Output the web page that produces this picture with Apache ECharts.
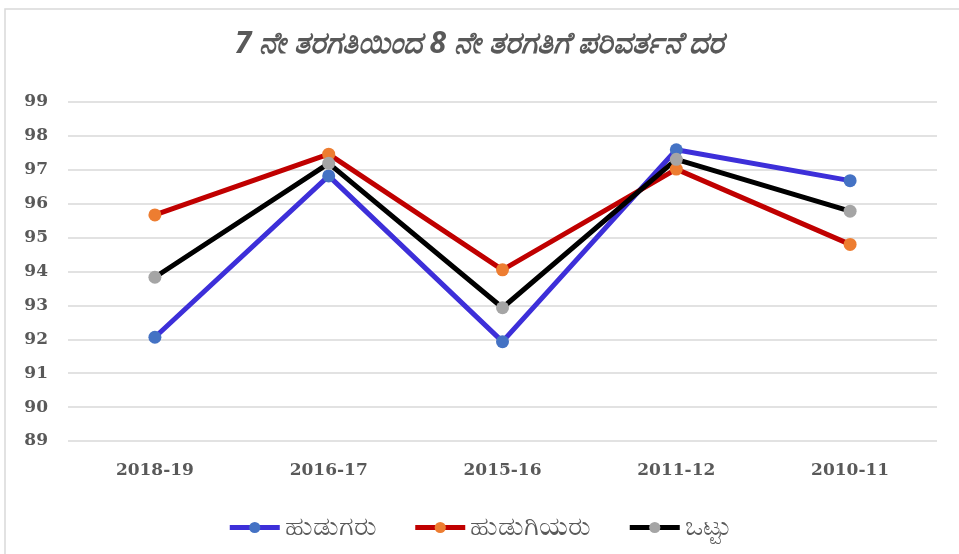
<!DOCTYPE html>
<html>
<head>
<meta charset="utf-8">
<script src="https://cdn.jsdelivr.net/npm/echarts@6/dist/echarts.min.js"></script>
<style>
html, body { margin: 0; padding: 0; background: #fff; }
#chart { width: 959px; height: 554px; }
</style>
</head>
<body>
<div id="chart"></div>
<script>
// ವರ್ಷಗಳು
var years = ['2018-19', '2016-17', '2015-16', '2011-12', '2010-11'];
var boys = [92.06, 96.82, 91.93, 97.59, 96.68];
var girls = [95.67, 97.46, 94.05, 97.02, 94.80];
var total = [93.83, 97.19, 92.93, 97.31, 95.78];
var yTicks = [89, 99, 1];  // min, max, interval

var chart = echarts.init(document.getElementById('chart'), null, { renderer: 'canvas' });

function mkSeries(name, data, lineColor, dotColor) {
    return {
        name: name,
        type: 'line',
        data: data,
        symbol: 'circle',
        symbolSize: 13,
        showSymbol: true,
        lineStyle: { color: lineColor, width: 5 },
        itemStyle: { color: dotColor, borderWidth: 0 },
        emphasis: { disabled: true }
    };
}

var axisFont = {
    color: '#595959',
    fontSize: 17,
    fontWeight: 'bold',
    fontFamily: '"DejaVu Serif", serif'
};

var option = {
    backgroundColor: '#fff',
    animation: false,
    title: {
        text: '7 ನೇ ತರಗತಿಯಿಂದ 8 ನೇ ತರಗತಿಗೆ ಪರಿವರ್ತನೆ ದರ',
        left: 'center',
        top: 24,
        textStyle: {
            color: '#595959',
            fontSize: 30,
            fontStyle: 'italic',
            fontWeight: 'bold',
            fontFamily: '"Noto Sans", sans-serif'
        }
    },
    graphic: [{
        type: 'rect',
        shape: { x: 5, y: 9, width: 970, height: 560 },
        style: { fill: 'none', stroke: '#d9d9d9', lineWidth: 1.5 },
        silent: true
    }],
    legend: {
        bottom: 8,
        left: 'center',
        itemWidth: 50,
        itemHeight: 14,
        itemGap: 36,
        lineStyle: { width: 5 },
        textStyle: { color: '#595959', fontSize: 27, fontFamily: '"Noto Sans", sans-serif' },
        data: ['ಹುಡುಗರು', 'ಹುಡುಗಿಯರು', 'ಒಟ್ಟು']
    },
    grid: { left: 68, right: 22, top: 102, bottom: 113, containLabel: false },
    xAxis: {
        type: 'category',
        data: years,
        boundaryGap: true,
        axisLine: { show: false },
        axisTick: { show: false },
        axisLabel: Object.assign({ margin: 21 }, axisFont)
    },
    yAxis: {
        type: 'value',
        min: yTicks[0],
        max: yTicks[1],
        interval: yTicks[2],
        axisLine: { show: false },
        axisTick: { show: false },
        splitLine: { lineStyle: { color: '#d9d9d9', width: 1.5 } },
        axisLabel: Object.assign({ margin: 20 }, axisFont)
    },
    series: [
        mkSeries('ಹುಡುಗರು', boys, '#3d2fd9', '#4472c4'),
        mkSeries('ಹುಡುಗಿಯರು', girls, '#c00000', '#ed7d31'),
        mkSeries('ಒಟ್ಟು', total, '#000000', '#a5a5a5')
    ]
};

chart.setOption(option);
</script>
</body>
</html>
